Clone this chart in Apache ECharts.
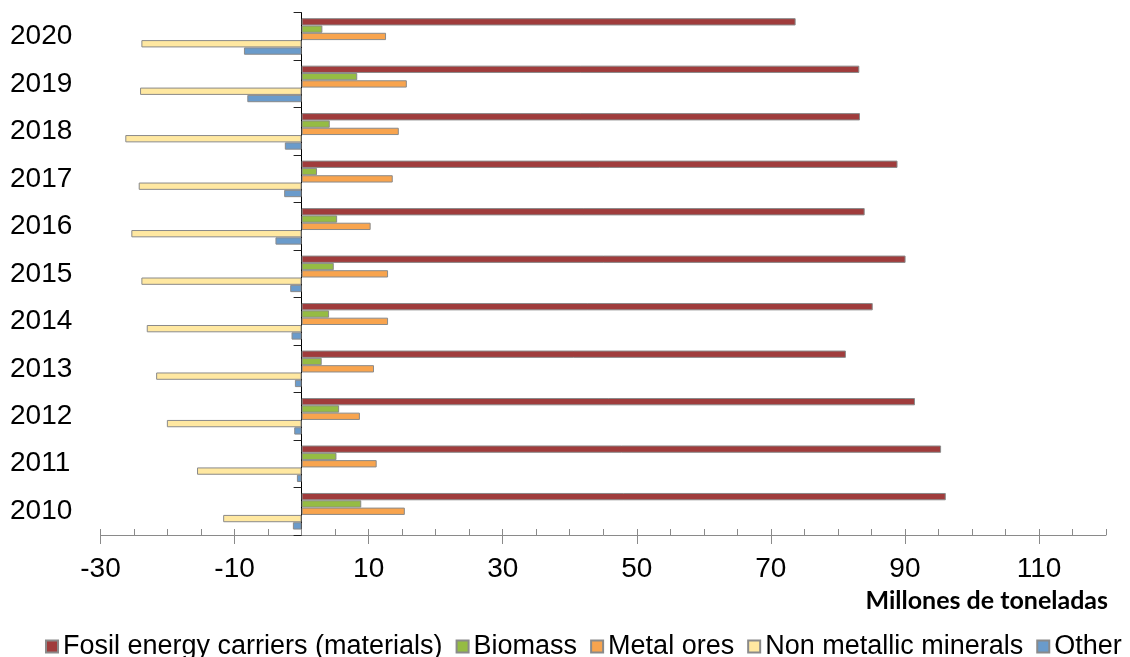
<!DOCTYPE html>
<html>
<head>
<meta charset="utf-8">
<script src="https://cdn.jsdelivr.net/npm/echarts@6/dist/echarts.min.js"></script>
<style>
html,body{margin:0;padding:0;background:#fff;}
#chart{width:1130px;height:657px;}
</style>
</head>
<body>
<div id="chart"></div>
<script>
const years = ['2010','2011','2012','2013','2014','2015','2016','2017','2018','2019','2020'];
const seriesNames = ['Fosil energy carriers (materials)','Biomass','Metal ores','Non metallic minerals','Other'];
const fossil   = [96.1, 95.4, 91.5, 81.2, 85.2, 90.1, 84.0, 88.9, 83.3, 83.2, 73.7];
const biomass  = [8.9, 5.2, 5.6, 3.0, 4.1, 4.8, 5.3, 2.3, 4.2, 8.3, 3.1];
const metal    = [15.4, 11.2, 8.7, 10.8, 12.9, 12.9, 10.3, 13.6, 14.5, 15.7, 12.6];
const nonmetal = [-11.7, -15.6, -20.1, -21.7, -23.1, -23.9, -25.4, -24.3, -26.3, -24.1, -23.9];
const other    = [-1.3, -0.7, -1.1, -1.0, -1.5, -1.7, -3.9, -2.6, -2.5, -8.1, -8.6];
const xTickLabels = [-30, -10, 10, 30, 50, 70, 90, 110];
const axisTitle = 'Millones de toneladas';

const colors = ['#A03C3C', '#95BC43', '#F8A44E', '#FFE8A1', '#6A9BCB'];
const values = [fossil, biomass, metal, nonmetal, other];

const chart = echarts.init(document.getElementById('chart'));
const series = seriesNames.map((name, i) => ({
  name: name,
  type: 'bar',
  xAxisIndex: 0,
  yAxisIndex: 0,
  data: values[i],
  barGap: '0%',
  barCategoryGap: '23%',
  itemStyle: { color: colors[i], borderColor: '#8a8a8a', borderWidth: 1 },
  emphasis: { disabled: true }
}));

chart.setOption({
  animation: false,
  grid: { left: 100.5, right: 24, top: 12.7, bottom: 122, containLabel: false, outerBoundsMode: 'none' },
  xAxis: [
    {
      type: 'value', position: 'bottom', min: -30, max: 120, interval: 5,
      axisLine: { show: true, lineStyle: { color: '#8a8a8a', width: 1 } },
      axisTick: { show: true, inside: true, length: 6, lineStyle: { color: '#8a8a8a' } },
      axisLabel: { show: false },
      splitLine: { show: false }
    },
    {
      type: 'value', position: 'bottom', offset: 0, min: -30, max: 120,
      axisLine: { show: false },
      axisTick: { show: true, inside: false, length: 9, customValues: xTickLabels, lineStyle: { color: '#8a8a8a' } },
      axisLabel: { show: true, customValues: xTickLabels, margin: 20, color: '#000', fontSize: 28, fontFamily: 'Liberation Sans, Arial, sans-serif' },
      splitLine: { show: false }
    }
  ],
  yAxis: [
    {
      type: 'category', data: years,
      axisLine: { show: true, onZero: true, lineStyle: { color: '#000', width: 1 } },
      axisTick: { show: true, inside: false, length: 8, lineStyle: { color: '#222' } },
      axisLabel: { show: false },
      splitLine: { show: false }
    },
    {
      type: 'category', data: years, position: 'left', offset: 0,
      axisLine: { show: false, onZero: false },
      axisTick: { show: false },
      axisLabel: { show: true, align: 'left', margin: 90.5, color: '#000', fontSize: 28, fontFamily: 'Liberation Sans, Arial, sans-serif' },
      splitLine: { show: false }
    }
  ],
  legend: {
    data: seriesNames,
    left: 40, top: 628,
    itemWidth: 12, itemHeight: 12, itemGap: 13,
    icon: 'rect',
    selectedMode: false,
    textStyle: { color: '#000', fontSize: 27, fontFamily: 'Liberation Sans, Arial, sans-serif' }
  },
  graphic: [{
    type: 'text', right: 22, top: 588,
    style: { text: axisTitle, fill: '#000', font: 'bold 25px Lato, "Open Sans", sans-serif' }
  }],
  series: series
});
</script>
</body>
</html>
